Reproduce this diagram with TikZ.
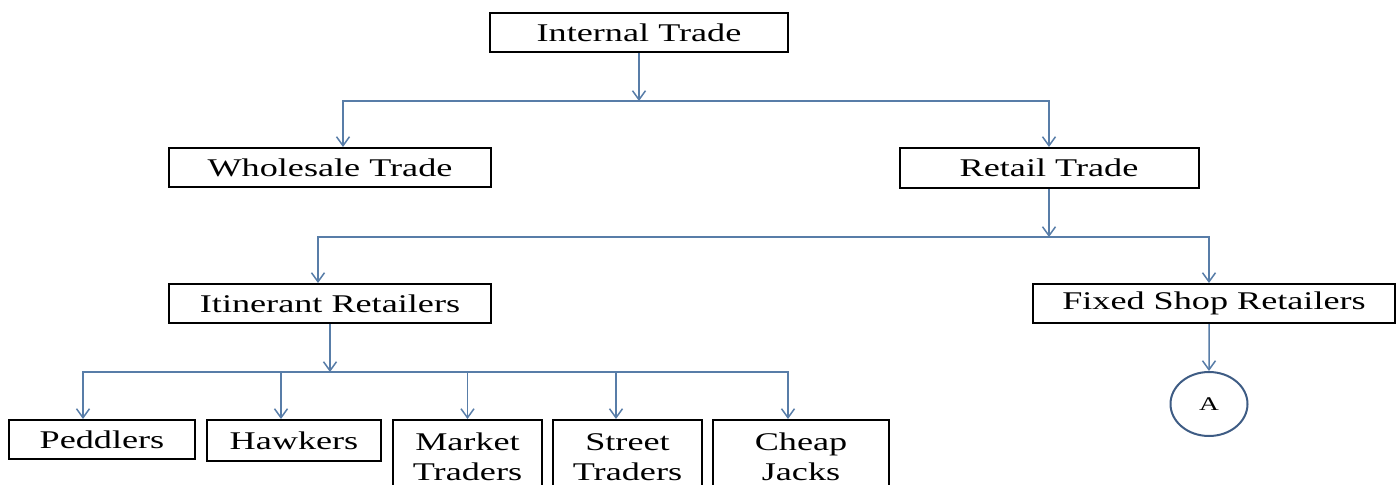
\documentclass[tikz,border=0pt]{standalone}
\usepackage{fontspec}
\setmainfont{Liberation Serif}[FakeStretch=1.42]
\usetikzlibrary{arrows.meta,shapes.geometric}

\definecolor{linkblue}{RGB}{88,125,168}
\definecolor{ringblue}{RGB}{62,92,132}

\tikzset{
	box/.style={shape=rectangle,draw=black,line width=0.4mm,inner sep=0pt,align=center,font=\fontsize{14.5}{17}\selectfont},
	link/.style={draw=linkblue,line width=0.3mm,-{Straight Barb[length=1.8mm,width=2.6mm]}},
	ring/.style={shape=ellipse,draw=ringblue,line width=0.4mm,inner sep=0pt,font=\fontsize{11}{13}\selectfont}
}

\begin{document}
\begin{tikzpicture}[x=0.2mm,y=-0.2mm]
	\path[use as bounding box,clip] (0,0) rectangle (1400,484);

	\node[box,minimum width=59.6mm,minimum height=7.8mm] (internal) at (639,32.5)   {Internal Trade};
	\node[box,minimum width=64.4mm,minimum height=7.8mm] (wholesale) at (330,167.5) {Wholesale Trade};
	\node[box,minimum width=59.8mm,minimum height=8mm]   (retail) at (1049,168)     {Retail Trade};
	\node[box,minimum width=64.4mm,minimum height=7.8mm] (itinerant) at (330,303.5) {Itinerant Retailers};
	\node[box,minimum width=72.4mm,minimum height=7.8mm] (fixed) at (1214,303.5)    {Fixed Shop Retailers};
	\node[ring,minimum width=15.4mm,minimum height=12.8mm] (shopA) at (1209,404)    {A};

	\node[box,minimum width=37.2mm,minimum height=7.8mm,anchor=north]  (peddlers) at (102,419)  {Peddlers};
	\node[box,minimum width=34.8mm,minimum height=8.2mm,anchor=north]  (hawkers) at (294,419)   {Hawkers};
	\node[box,minimum width=29.8mm,minimum height=14.8mm,anchor=north] (market) at (467.5,419)  {Market\\Traders};
	\node[box,minimum width=29.8mm,minimum height=14.8mm,anchor=north] (street) at (627.5,419)  {Street\\Traders};
	\node[box,minimum width=35.2mm,minimum height=14.8mm,anchor=north] (cheap) at (801,419)     {Cheap\\Jacks};

	\coordinate (top) at (639,101);
	\coordinate (mid) at (1049,237);
	\coordinate (low) at (330,372);

	\draw[link] (internal) -- (top);
	\draw[link] (top) -| ([xshift=2.6mm]wholesale.north);
	\draw[link] (top) -| (retail.north);

	\draw[link] (retail) -- (mid);
	\draw[link] (mid) -| ([xshift=-2.4mm]itinerant.north);
	\draw[link] (mid) -| ([xshift=-1mm]fixed.north);
	\draw[link] ([xshift=-1mm]fixed.south) -- (shopA);

	\draw[link] (itinerant) -- (low);
	\draw[link] (low) -| ([xshift=-3.8mm]peddlers.north);
	\draw[link] (low) -| ([xshift=-2.6mm]hawkers.north);
	\draw[link] (low) -| (market.north);
	\draw[link] (low) -| ([xshift=-2.3mm]street.north);
	\draw[link] (low) -| ([xshift=-2.6mm]cheap.north);
\end{tikzpicture}
\end{document}
